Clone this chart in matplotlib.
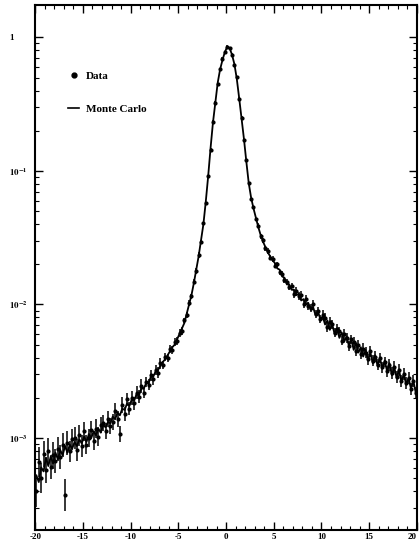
import numpy as np
import matplotlib
matplotlib.use("Agg")
import matplotlib.pyplot as plt
from matplotlib.ticker import MultipleLocator, LogLocator, FuncFormatter, NullFormatter
from matplotlib.lines import Line2D

plt.rcParams['font.family'] = ['Liberation Serif', 'DejaVu Serif']
plt.rcParams['mathtext.fontset'] = 'stix'

# bin centres, width 0.25 from -20 to 20
x = np.arange(-19.875, 20.0, 0.25)

# data, log10 of the normalised rate per bin
data_log = [
    -3.40, -3.18, -3.30, -3.12, -3.24, -3.10, -3.22, -3.13, -3.17, -3.08,
    -3.14, -3.05, -3.43, -3.04, -3.10, -3.01, -3.00, -3.09, -2.98, -3.06,
    -2.95, -3.05, -3.00, -2.94, -3.02, -2.93, -2.99, -2.90, -2.89, -2.95,
    -2.86, -2.91, -2.88, -2.80, -2.86, -2.97, -2.75, -2.82, -2.71, -2.78,
    -2.70, -2.74, -2.66, -2.69, -2.61, -2.66, -2.58, -2.60, -2.53, -2.56,
    -2.49, -2.51, -2.44, -2.45, -2.39, -2.40, -2.33, -2.34, -2.28, -2.27,
    -2.21, -2.20, -2.12, -2.08, -1.99, -1.94, -1.83, -1.75, -1.63, -1.53,
    -1.39, -1.24, -1.04, -0.84, -0.63, -0.49, -0.35, -0.24, -0.16, -0.11,
    -0.07, -0.08, -0.13, -0.21, -0.30, -0.46, -0.60, -0.77, -0.92, -1.09,
    -1.21, -1.27, -1.36, -1.41, -1.49, -1.52, -1.58, -1.60, -1.65, -1.66,
    -1.71, -1.70, -1.76, -1.77, -1.82, -1.83, -1.87, -1.86, -1.92, -1.90,
    -1.94, -1.93, -2.00, -1.96, -2.01, -2.03, -2.00, -2.07, -2.05, -2.11,
    -2.08, -2.10, -2.17, -2.13, -2.15, -2.21, -2.18, -2.20, -2.27, -2.22,
    -2.25, -2.31, -2.26, -2.28, -2.35, -2.30, -2.37, -2.33, -2.36, -2.41,
    -2.35, -2.42, -2.39, -2.45, -2.40, -2.47, -2.43, -2.50, -2.45, -2.51,
    -2.47, -2.54, -2.49, -2.57, -2.52, -2.59, -2.55, -2.63, -2.57, -2.66,
]

# error half width, in log10 units
data_err = [
    0.12, 0.11, 0.11, 0.10, 0.10, 0.10, 0.09, 0.10, 0.09, 0.09,
    0.09, 0.09, 0.12, 0.09, 0.08, 0.08, 0.08, 0.08, 0.08, 0.08,
    0.07, 0.07, 0.07, 0.07, 0.07, 0.07, 0.07, 0.06, 0.06, 0.06,
    0.06, 0.06, 0.06, 0.06, 0.06, 0.06, 0.06, 0.05, 0.05, 0.05,
    0.05, 0.05, 0.05, 0.05, 0.05, 0.04, 0.04, 0.04, 0.04, 0.04,
    0.04, 0.04, 0.04, 0.03, 0.03, 0.03, 0.03, 0.03, 0.03, 0.03,
    0.03, 0.03, 0.02, 0.02, 0.02, 0.02, 0.02, 0.02, 0.02, 0.01,
    0.01, 0.01, 0.01, 0.01, 0.01, 0.01, 0.01, 0.01, 0.01, 0.01,
    0.01, 0.01, 0.01, 0.01, 0.01, 0.01, 0.01, 0.01, 0.01, 0.01,
    0.01, 0.01, 0.01, 0.02, 0.02, 0.02, 0.02, 0.02, 0.02, 0.02,
    0.02, 0.02, 0.02, 0.02, 0.02, 0.02, 0.02, 0.02, 0.03, 0.03,
    0.03, 0.03, 0.03, 0.03, 0.03, 0.03, 0.03, 0.03, 0.03, 0.03,
    0.035, 0.035, 0.035, 0.035, 0.035, 0.035, 0.035, 0.035, 0.035, 0.035,
    0.035, 0.035, 0.035, 0.035, 0.035, 0.035, 0.04, 0.04, 0.04, 0.04,
    0.04, 0.04, 0.04, 0.04, 0.04, 0.04, 0.04, 0.04, 0.045, 0.045,
    0.045, 0.045, 0.045, 0.045, 0.045, 0.045, 0.045, 0.045, 0.045, 0.045,
]

# monte carlo, log10
mc_log = [
    -3.28, -3.33, -3.22, -3.25, -3.15, -3.21, -3.14, -3.19, -3.11, -3.16,
    -3.09, -3.13, -3.06, -3.11, -3.05, -3.08, -3.03, -3.06, -3.01, -3.04,
    -2.99, -3.03, -2.97, -3.00, -2.95, -2.98, -2.93, -2.96, -2.90, -2.92,
    -2.88, -2.89, -2.84, -2.86, -2.81, -2.83, -2.78, -2.79, -2.74, -2.76,
    -2.71, -2.72, -2.67, -2.68, -2.63, -2.63, -2.59, -2.59, -2.54, -2.54,
    -2.50, -2.49, -2.46, -2.43, -2.41, -2.38, -2.35, -2.32, -2.30, -2.26,
    -2.22, -2.18, -2.14, -2.07, -2.00, -1.93, -1.84, -1.74, -1.64, -1.52,
    -1.40, -1.23, -1.04, -0.83, -0.64, -0.49, -0.34, -0.24, -0.17, -0.11,
    -0.07, -0.08, -0.13, -0.20, -0.31, -0.455, -0.61, -0.76, -0.93, -1.09,
    -1.20, -1.28, -1.35, -1.42, -1.48, -1.53, -1.57, -1.61, -1.64, -1.67,
    -1.69, -1.73, -1.74, -1.79, -1.80, -1.85, -1.85, -1.89, -1.89, -1.93,
    -1.92, -1.97, -1.96, -2.00, -1.99, -2.04, -2.02, -2.08, -2.05, -2.11,
    -2.09, -2.15, -2.12, -2.19, -2.15, -2.22, -2.18, -2.25, -2.21, -2.28,
    -2.24, -2.31, -2.26, -2.34, -2.29, -2.36, -2.32, -2.39, -2.34, -2.42,
    -2.36, -2.44, -2.38, -2.46, -2.40, -2.48, -2.42, -2.50, -2.44, -2.53,
    -2.47, -2.55, -2.49, -2.58, -2.52, -2.60, -2.55, -2.63, -2.57, -2.66,
]

x_ticks = [-20, -15, -10, -5, 0, 5, 10, 15, 20]
x_ticklabels = ['-20', '-15', '-10', '-5', '0', '5', '10', '15', '20']

y_data = 10.0 ** np.array(data_log)
e = np.array(data_err)
y_lo = y_data - 10.0 ** (np.array(data_log) - e)
y_hi = 10.0 ** (np.array(data_log) + e) - y_data
y_mc = 10.0 ** np.array(mc_log)

fig = plt.figure(figsize=(4.19, 5.48), dpi=100)
ax = fig.add_axes([0.084, 0.033, 0.911, 0.958])

ax.errorbar(x, y_data, yerr=[y_lo, y_hi], fmt='o', ms=2.0, color='black',
            ecolor='black', elinewidth=1.1, capsize=0, zorder=3)
ax.plot(x, y_mc, color='black', lw=1.3, zorder=4)

ax.set_yscale('log')
ax.set_xlim(-20, 20)
ax.set_ylim(2.05e-4, 1.75)

ax.set_xticks(x_ticks, x_ticklabels)
ax.xaxis.set_minor_locator(MultipleLocator(1))
ax.yaxis.set_major_locator(LogLocator(base=10, numticks=10))
ax.yaxis.set_minor_locator(LogLocator(base=10, subs=np.arange(2, 10), numticks=10))
ax.yaxis.set_minor_formatter(NullFormatter())

def ylab(v, pos):
    if abs(v - 1) < 1e-9:
        return '1'
    return r'$\mathbf{10^{%d}}$' % int(round(np.log10(v)))

ax.yaxis.set_major_formatter(FuncFormatter(ylab))

ax.tick_params(which='both', direction='in', top=True, right=True, labelsize=6.5)
ax.tick_params(which='major', length=6, width=1.0)
ax.tick_params(which='minor', length=3, width=0.8)
ax.tick_params(axis='x', pad=2)
ax.tick_params(axis='y', pad=19)
for t in ax.get_yticklabels():
    t.set_horizontalalignment('left')
for t in ax.get_xticklabels() + ax.get_yticklabels():
    t.set_fontweight('bold')
# last x label sits against the right edge
ax.xaxis.get_major_ticks()[-1].label1.set_horizontalalignment('right')
for s in ax.spines.values():
    s.set_linewidth(1.5)

handles = [
    Line2D([], [], marker='o', ls='none', color='black', ms=3.5),
    Line2D([], [], color='black', lw=1.2),
]
leg = ax.legend(handles, ['Data', 'Monte Carlo'], loc='upper left',
                bbox_to_anchor=(0.06, 0.893), frameon=False, handlelength=1.0,
                labelspacing=2.1, handletextpad=0.6,
                prop={'size': 8, 'weight': 'bold', 'family': 'Liberation Serif'})

fig.savefig('out.png', dpi=100)
